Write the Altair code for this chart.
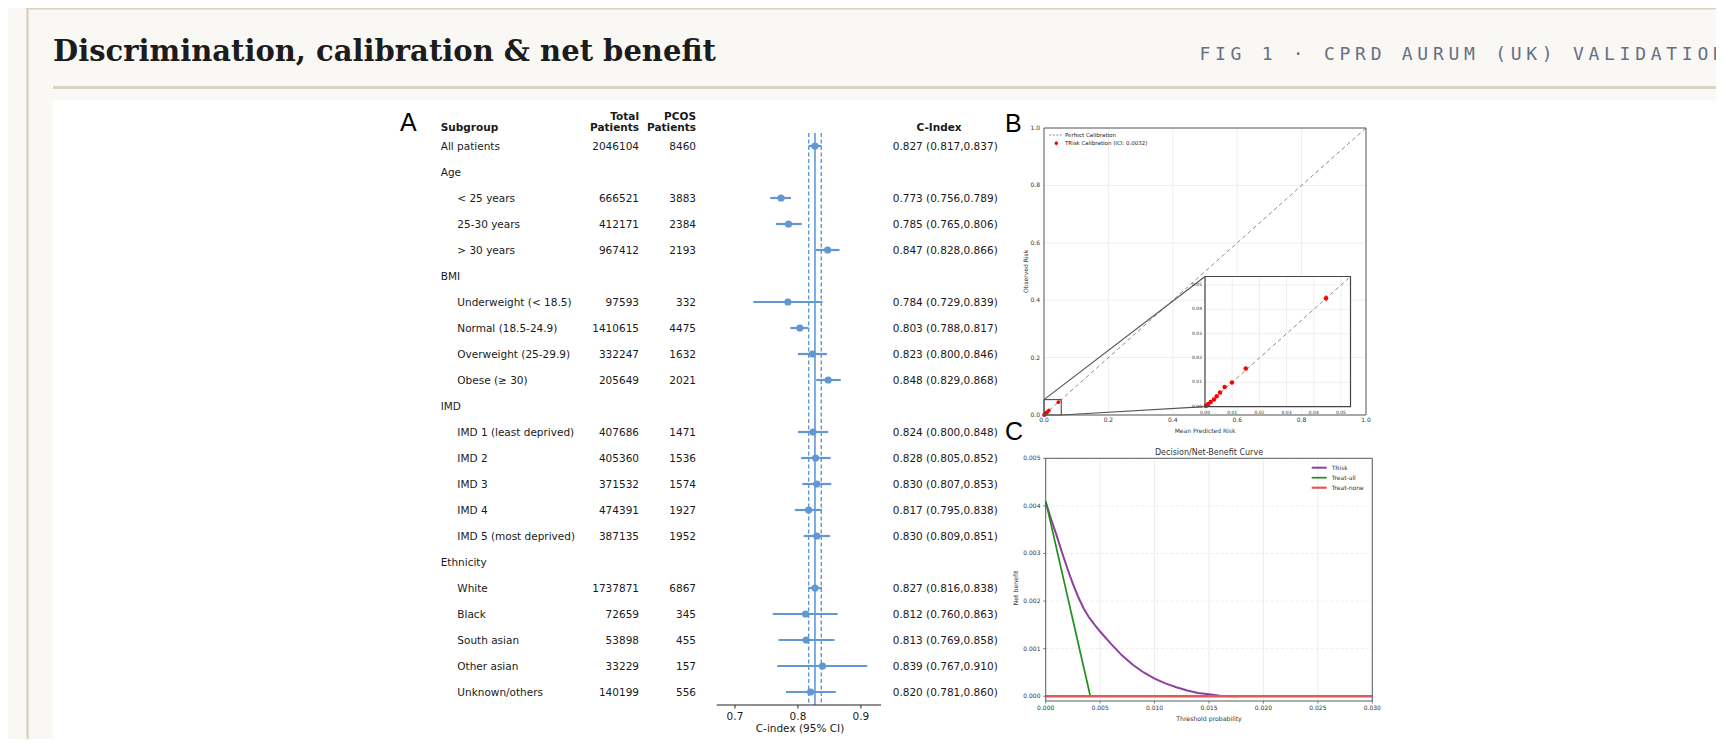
import altair as alt
import pandas as pd

# ---------------- Panel A : subgroup discrimination ----------------
subgroups = ["All patients", "Age", "< 25 years", "25-30 years", "> 30 years", "BMI",
             "Underweight (< 18.5)", "Normal (18.5-24.9)", "Overweight (25-29.9)", "Obese (≥ 30)",
             "IMD", "IMD 1 (least deprived)", "IMD 2", "IMD 3", "IMD 4", "IMD 5 (most deprived)",
             "Ethnicity", "White", "Black", "South asian", "Other asian", "Unknown/others"]
indent_level = [0, 0, 1, 1, 1, 0, 1, 1, 1, 1, 0, 1, 1, 1, 1, 1, 0, 1, 1, 1, 1, 1]
total_patients = [2046104, None, 666521, 412171, 967412, None, 97593, 1410615, 332247, 205649,
                  None, 407686, 405360, 371532, 474391, 387135, None, 1737871, 72659, 53898, 33229, 140199]
pcos_patients = [8460, None, 3883, 2384, 2193, None, 332, 4475, 1632, 2021,
                 None, 1471, 1536, 1574, 1927, 1952, None, 6867, 345, 455, 157, 556]
c_index = [0.827, None, 0.773, 0.785, 0.847, None, 0.784, 0.803, 0.823, 0.848,
           None, 0.824, 0.828, 0.830, 0.817, 0.830, None, 0.827, 0.812, 0.813, 0.839, 0.820]
ci_low = [0.817, None, 0.756, 0.765, 0.828, None, 0.729, 0.788, 0.800, 0.829,
          None, 0.800, 0.805, 0.807, 0.795, 0.809, None, 0.816, 0.760, 0.769, 0.767, 0.781]
ci_high = [0.837, None, 0.789, 0.806, 0.866, None, 0.839, 0.817, 0.846, 0.868,
           None, 0.848, 0.852, 0.853, 0.838, 0.851, None, 0.838, 0.863, 0.858, 0.910, 0.860]
overall_c = [0.827]
overall_ci = [0.817, 0.837]
forest_ticks = [0.7, 0.8, 0.9]

# ---------------- Panel B : calibration ----------------
cal_pred = [0.0004, 0.0012, 0.0021, 0.0033, 0.0043, 0.0055, 0.0072, 0.0099, 0.0150, 0.0445]
cal_obs = [0.0004, 0.0011, 0.0019, 0.0030, 0.0043, 0.0058, 0.0081, 0.0099, 0.0157, 0.0446]
cal_err = [0.0001, 0.0002, 0.0002, 0.0002, 0.0003, 0.0003, 0.0004, 0.0004, 0.0007, 0.0013]
cal_ticks = [0.0, 0.2, 0.4, 0.6, 0.8, 1.0]
inset_ticks = [0.0, 0.01, 0.02, 0.03, 0.04, 0.05]
inset_max = 0.0535

# ---------------- Panel C : decision curve ----------------
thresholds = [0.0000, 0.0005, 0.0010, 0.0015, 0.0020, 0.0025, 0.0030, 0.0035, 0.0040, 0.0045,
              0.0050, 0.0060, 0.0070, 0.0080, 0.0090, 0.0100, 0.0110, 0.0120, 0.0130, 0.0140,
              0.0150, 0.0160, 0.0170, 0.0177]
nb_trisk = [0.00408, 0.00372, 0.00338, 0.00302, 0.00268, 0.00236, 0.00208, 0.00184, 0.00165, 0.00150,
            0.00136, 0.00110, 0.00086, 0.00066, 0.00050, 0.00037, 0.00027, 0.00019, 0.00012, 0.00007,
            0.00004, 0.00001, 0.00000, 0.00000]
treat_all_t = [0.0, 0.0041]
treat_all_nb = [0.0041, 0.0]
treat_none_t = [0.0, 0.03]
treat_none_nb = [0.0, 0.0]
dca_xticks = [0.0, 0.005, 0.01, 0.015, 0.02, 0.025, 0.03]
dca_yticks = [0.0, 0.001, 0.002, 0.003, 0.004, 0.005]

# ---------------- styling / layout ----------------
W, H = 1708, 731
CREAM = "#f9f8f4"
BEIGE = "#d9d3c3"
FIG = "DejaVu Sans"
INK = "#1a1a1a"
BLUE = "#6197d3"
GRID = "#e8e8e8"
SPINE = "#5a5a5a"

one = pd.DataFrame({"k": [0]})


def S(domain, rng):
    return alt.Scale(domain=domain, range=rng, nice=False, zero=False)


def qx(field, sc):
    return alt.X(f"{field}:Q", scale=sc, axis=None)


def qy(field, sc):
    return alt.Y(f"{field}:Q", scale=sc, axis=None)


def rule_px(x1, x2, y1, y2, color, w, dash=None):
    kw = dict(color=color, strokeWidth=w)
    if dash:
        kw["strokeDash"] = dash
    enc = dict(x=alt.value(x1), y=alt.value(y1))
    if x2 is not None:
        enc["x2"] = alt.value(x2)
    if y2 is not None:
        enc["y2"] = alt.value(y2)
    return alt.Chart(one).mark_rule(**kw).encode(**enc)


def label(x, y, s, size, font=FIG, color=INK, align="left", baseline="alphabetic",
          weight="normal", angle=0):
    return alt.Chart(one).mark_text(text=s, fontSize=size, font=font, color=color, align=align,
                                    baseline=baseline, fontWeight=weight, angle=angle).encode(
        x=alt.value(x), y=alt.value(y))


layers = []

# ---- page decoration ----
layers.append(rule_px(18, W, 0.8, None, BEIGE, 1.6))
layers.append(rule_px(19.5, None, 0, H, BEIGE, 2.5))
layers.append(label(45, 53, "Discrimination, calibration & net benefit", 29,
                    font="DejaVu Serif", color="#1c1c1c", weight="bold"))
subtitle = "FIG 1 · CPRD AURUM (UK) VALIDATION"
sub_df = pd.DataFrame({"i": list(range(len(subtitle))), "ch": list(subtitle)})
sub_df = sub_df[sub_df["ch"] != " "]
layers.append(alt.Chart(sub_df).mark_text(fontSize=18, font="DejaVu Sans Mono", color="#667085",
                                          align="left", baseline="alphabetic").encode(
    x=qx("i", S([0, 1], [1191.5, 1207.06])), y=alt.value(52), text="ch:N"))
layers.append(rule_px(45, W, 79.5, None, BEIGE, 3))
layers.append(alt.Chart(one).mark_rect(color="white").encode(
    x=alt.value(45), x2=alt.value(W), y=alt.value(92), y2=alt.value(H)))

# ---- Panel A ----
AX = S([0.671, 0.932], [708.7, 873.1])
AY = S([-0.5, 21.5], [125, 697])

rows = pd.DataFrame({
    "row": list(range(len(subgroups))),
    "label": subgroups,
    "indent": indent_level,
    "total": ["" if v is None else str(v) for v in total_patients],
    "pcos": ["" if v is None else str(v) for v in pcos_patients],
    "c": [float("nan") if v is None else v for v in c_index],
    "lo": [float("nan") if v is None else v for v in ci_low],
    "hi": [float("nan") if v is None else v for v in ci_high],
    "ctext": ["" if c is None else f"{c:.3f} ({l:.3f},{h:.3f})"
              for c, l, h in zip(c_index, ci_low, ci_high)],
})
est = rows.dropna(subset=["c"])

layers.append(label(392, 123, "A", 25, font="Liberation Sans", color="#000"))
layers.append(label(432.7, 122.7, "Subgroup", 10.5, weight="bold"))
layers.append(label(631, 112, "Total", 10.5, weight="bold", align="right"))
layers.append(label(631, 122.7, "Patients", 10.5, weight="bold", align="right"))
layers.append(label(688, 112, "PCOS", 10.5, weight="bold", align="right"))
layers.append(label(688, 122.7, "Patients", 10.5, weight="bold", align="right"))
layers.append(label(931, 122.7, "C-Index", 10.5, weight="bold", align="center"))

ref_solid = pd.DataFrame({"x": overall_c, "y0": [-0.5], "y1": [21.5]})
ref_dash = pd.DataFrame({"x": overall_ci, "y0": [-0.5, -0.5], "y1": [21.5, 21.5]})
layers.append(alt.Chart(ref_dash).mark_rule(color=BLUE, strokeWidth=1.4, strokeDash=[4, 2.5]).encode(
    x=qx("x", AX), y=qy("y0", AY), y2="y1:Q"))
layers.append(alt.Chart(ref_solid).mark_rule(color=BLUE, strokeWidth=1.6).encode(
    x=qx("x", AX), y=qy("y0", AY), y2="y1:Q"))
layers.append(alt.Chart(est).mark_rule(color=BLUE, strokeWidth=2.2).encode(
    x=qx("lo", AX), x2="hi:Q", y=qy("row", AY)))
layers.append(alt.Chart(est).mark_circle(color=BLUE, size=52, opacity=1).encode(
    x=qx("c", AX), y=qy("row", AY)))

txt_kw = dict(fontSize=10.5, font=FIG, color=INK, baseline="alphabetic", dy=4.3)
layers.append(alt.Chart(rows[rows["indent"] == 0]).mark_text(align="left", **txt_kw).encode(
    x=alt.value(432.7), y=qy("row", AY), text="label:N"))
layers.append(alt.Chart(rows[rows["indent"] == 1]).mark_text(align="left", **txt_kw).encode(
    x=alt.value(449.3), y=qy("row", AY), text="label:N"))
layers.append(alt.Chart(est).mark_text(align="right", **txt_kw).encode(
    x=alt.value(631), y=qy("row", AY), text="total:N"))
layers.append(alt.Chart(est).mark_text(align="right", **txt_kw).encode(
    x=alt.value(688), y=qy("row", AY), text="pcos:N"))
layers.append(alt.Chart(est).mark_text(align="left", **txt_kw).encode(
    x=alt.value(884.7), y=qy("row", AY), text="ctext:N"))

axis_df = pd.DataFrame({"a": [0.671], "b": [0.932]})
layers.append(alt.Chart(axis_df).mark_rule(color="#222", strokeWidth=1.1).encode(
    x=qx("a", AX), x2="b:Q", y=alt.value(697)))
ft = pd.DataFrame({"t": forest_ticks})
layers.append(alt.Chart(ft).mark_rule(color="#222", strokeWidth=1).encode(
    x=qx("t", AX), y=alt.value(697), y2=alt.value(700.5)))
layers.append(alt.Chart(ft).mark_text(fontSize=10.5, font=FIG, color=INK, baseline="middle").encode(
    x=qx("t", AX), y=alt.value(708.7), text=alt.Text("t:Q", format=".1f")))
layers.append(label(792, 721, "C-index (95% CI)", 10.5, align="center", baseline="middle"))

# ---- Panel B ----
BX = S([0, 1], [1036, 1358])
BY = S([0, 1], [407, 120])
ct = pd.DataFrame({"t": cal_ticks})
layers.append(alt.Chart(ct).mark_rule(color=GRID, strokeWidth=0.8).encode(
    x=qx("t", BX), y=alt.value(120), y2=alt.value(407)))
layers.append(alt.Chart(ct).mark_rule(color=GRID, strokeWidth=0.8).encode(
    y=qy("t", BY), x=alt.value(1036), x2=alt.value(1358)))
diag = pd.DataFrame({"x": [0.0, 1.0], "y": [0.0, 1.0]})
layers.append(alt.Chart(diag).mark_line(color="#8c8c8c", strokeWidth=1, strokeDash=[4, 3]).encode(
    x=qx("x", BX), y=qy("y", BY)))

cal = pd.DataFrame({"p": cal_pred, "o": cal_obs, "e": cal_err})
cal["lo"] = cal["o"] - cal["e"]
cal["hi"] = cal["o"] + cal["e"]
layers.append(alt.Chart(cal).mark_rule(color="red", strokeWidth=0.8).encode(
    x=qx("p", BX), y=qy("lo", BY), y2="hi:Q"))
layers.append(alt.Chart(cal).mark_circle(color="red", size=14, opacity=1).encode(
    x=qx("p", BX), y=qy("o", BY)))

inset_frac = [0.5, 0.952, 0.0289, 0.4826]   # inset box in main-axis units
zoom_box = pd.DataFrame({"a": [0.0], "b": [inset_max]})
layers.append(alt.Chart(zoom_box).mark_rect(fillOpacity=0, stroke="#3a3a3a", strokeWidth=1).encode(
    x=qx("a", BX), x2="b:Q", y=qy("a", BY), y2="b:Q"))
conn = pd.DataFrame({"x1": [0.0, inset_max], "y1": [inset_max, 0.0],
                     "x2": [inset_frac[0], inset_frac[0]], "y2": [inset_frac[3], inset_frac[2]]})
layers.append(alt.Chart(conn).mark_rule(color="#555", strokeWidth=1.2).encode(
    x=qx("x1", BX), y=qy("y1", BY), x2="x2:Q", y2="y2:Q"))

frame = pd.DataFrame({"a": [0.0], "b": [1.0]})
layers.append(alt.Chart(frame).mark_rect(fillOpacity=0, stroke=SPINE, strokeWidth=1).encode(
    x=qx("a", BX), x2="b:Q", y=qy("a", BY), y2="b:Q"))
layers.append(alt.Chart(ct).mark_text(fontSize=6, font=FIG, color="#333", baseline="middle").encode(
    x=qx("t", BX), y=alt.value(412), text=alt.Text("t:Q", format=".1f")))
layers.append(alt.Chart(ct).mark_text(fontSize=6, font=FIG, color="#333", baseline="middle",
                                      align="right").encode(
    y=qy("t", BY), x=alt.value(1032), text=alt.Text("t:Q", format=".1f")))
layers.append(label(1197, 422.5, "Mean Predicted Risk", 6, color="#333", align="center", baseline="middle"))
layers.append(label(1018, 263.5, "Observed Risk", 6, color="#333", align="center", baseline="middle", angle=270))
layers.append(label(997, 123.7, "B", 25, font="Liberation Sans", color="#000"))

# legend B
layers.append(rule_px(1041.3, 1053.7, 127, None, "#8c8c8c", 1, dash=[2, 1.5]))
layers.append(label(1057, 127, "Perfect Calibration", 5.5, color="#222", baseline="middle"))
layers.append(rule_px(1048.3, None, 133.3, 137.3, "red", 0.8))
layers.append(alt.Chart(one).mark_circle(color="red", size=12, opacity=1).encode(
    x=alt.value(1048.3), y=alt.value(135.3)))
layers.append(label(1057, 135.3, "TRisk Calibration (ICI: 0.0032)", 5.5, color="#222", baseline="middle"))

# inset
IX = S([0, inset_max], [1197, 1342.5])
IY = S([0, inset_max], [398.7, 268.5])
ib = pd.DataFrame({"a": [0.0], "b": [inset_max]})
layers.append(alt.Chart(ib).mark_rect(color="white").encode(
    x=qx("a", IX), x2="b:Q", y=qy("a", IY), y2="b:Q"))
it = pd.DataFrame({"t": inset_ticks})
layers.append(alt.Chart(it).mark_rule(color=GRID, strokeWidth=0.7).encode(
    x=qx("t", IX), y=alt.value(268.5), y2=alt.value(398.7)))
layers.append(alt.Chart(it).mark_rule(color=GRID, strokeWidth=0.7).encode(
    y=qy("t", IY), x=alt.value(1197), x2=alt.value(1342.5)))
idiag = pd.DataFrame({"x": [0.0, inset_max], "y": [0.0, inset_max]})
layers.append(alt.Chart(idiag).mark_line(color="#8c8c8c", strokeWidth=1, strokeDash=[4, 3]).encode(
    x=qx("x", IX), y=qy("y", IY)))
layers.append(alt.Chart(cal).mark_rule(color="red", strokeWidth=0.8).encode(
    x=qx("p", IX), y=qy("lo", IY), y2="hi:Q"))
layers.append(alt.Chart(cal).mark_circle(color="red", size=20, opacity=1).encode(
    x=qx("p", IX), y=qy("o", IY)))
layers.append(alt.Chart(ib).mark_rect(fillOpacity=0, stroke="#444", strokeWidth=1.2).encode(
    x=qx("a", IX), x2="b:Q", y=qy("a", IY), y2="b:Q"))
layers.append(alt.Chart(it).mark_text(fontSize=4.5, font=FIG, color="#333", baseline="middle").encode(
    x=qx("t", IX), y=alt.value(405.3), text=alt.Text("t:Q", format=".2f")))
layers.append(alt.Chart(it).mark_text(fontSize=4.5, font=FIG, color="#333", baseline="middle",
                                      align="right").encode(
    y=qy("t", IY), x=alt.value(1194), text=alt.Text("t:Q", format=".2f")))

# ---- Panel C ----
CX = S([0, 0.03], [1037.7, 1364.3])
CY = S([-0.0001, 0.005], [693, 450.3])
dx = pd.DataFrame({"t": dca_xticks})
dy = pd.DataFrame({"t": dca_yticks})
layers.append(alt.Chart(dx).mark_rule(color=GRID, strokeWidth=0.8).encode(
    x=qx("t", CX), y=alt.value(450.3), y2=alt.value(693)))
layers.append(alt.Chart(dy).mark_rule(color=GRID, strokeWidth=0.8, strokeDash=[3, 2]).encode(
    y=qy("t", CY), x=alt.value(1037.7), x2=alt.value(1364.3)))

trisk = pd.DataFrame({"t": thresholds, "nb": nb_trisk})
tall = pd.DataFrame({"t": treat_all_t, "nb": treat_all_nb})
tnone = pd.DataFrame({"t": treat_none_t, "nb": treat_none_nb})
layers.append(alt.Chart(trisk).mark_line(color="#8f3f9f", strokeWidth=2).encode(
    x=qx("t", CX), y=qy("nb", CY)))
layers.append(alt.Chart(tall).mark_line(color="#208f20", strokeWidth=1.7).encode(
    x=qx("t", CX), y=qy("nb", CY)))
layers.append(alt.Chart(tnone).mark_line(color="#e05a5a", strokeWidth=2.4).encode(
    x=qx("t", CX), y=qy("nb", CY)))

cframe = pd.DataFrame({"a": [0.0], "b": [0.03], "c": [-0.0001], "d": [0.005]})
layers.append(alt.Chart(cframe).mark_rect(fillOpacity=0, stroke=SPINE, strokeWidth=1).encode(
    x=qx("a", CX), x2="b:Q", y=qy("c", CY), y2="d:Q"))
layers.append(alt.Chart(dx).mark_rule(color=SPINE, strokeWidth=0.8).encode(
    x=qx("t", CX), y=alt.value(693), y2=alt.value(695.5)))
layers.append(alt.Chart(dy).mark_rule(color=SPINE, strokeWidth=0.8).encode(
    y=qy("t", CY), x=alt.value(1035.2), x2=alt.value(1037.7)))
layers.append(alt.Chart(dx).mark_text(fontSize=6, font=FIG, color="#333", baseline="middle").encode(
    x=qx("t", CX), y=alt.value(700.3), text=alt.Text("t:Q", format=".3f")))
layers.append(alt.Chart(dy).mark_text(fontSize=6, font=FIG, color="#333", baseline="middle",
                                      align="right").encode(
    y=qy("t", CY), x=alt.value(1032.5), text=alt.Text("t:Q", format=".3f")))
layers.append(label(1201, 710.5, "Threshold probability", 6.2, color="#333", align="center", baseline="middle"))
layers.append(label(1007.5, 580, "Net benefit", 6.2, color="#333", align="center", baseline="middle", angle=270))
layers.append(label(1201, 444.7, "Decision/Net-Benefit Curve", 8, color="#333", align="center", baseline="middle"))
layers.append(label(997, 432, "C", 25, font="Liberation Sans", color="#000"))

# legend C
for yy, col, name, w in [(459.7, "#8f3f9f", "TRisk", 2), (469.7, "#208f20", "Treat-all", 1.7),
                         (479.7, "#e05a5a", "Treat-none", 2.2)]:
    layers.append(rule_px(1303.7, 1318.7, yy, None, col, w))
    layers.append(label(1323.7, yy, name, 6, color="#333", baseline="middle"))

chart = alt.layer(*layers).resolve_scale(x="independent", y="independent").properties(
    width=W, height=H, padding=0, autosize=alt.AutoSizeParams(type="none")
).configure(background=CREAM).configure_view(stroke=None)

chart.save("out.html", embed_options={"renderer": "svg", "actions": False})
